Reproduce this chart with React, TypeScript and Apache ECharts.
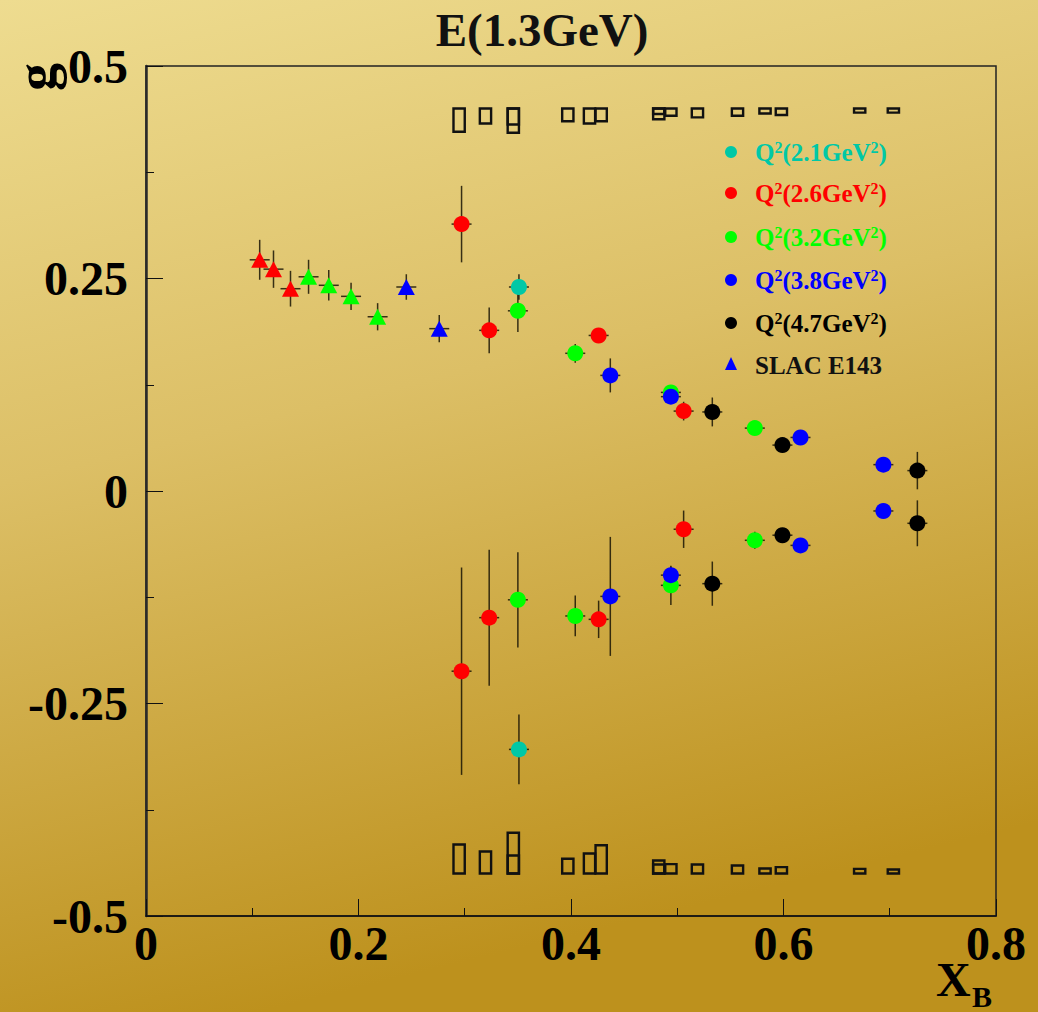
import React, { useEffect, useRef } from "react";
import * as echarts from "echarts";

const FONT = "'Liberation Serif', 'DejaVu Serif', serif";
const TITLE = "E(1.3GeV)";

// [x, y, error]
const q21 = [
  [0.351, 0.240, 0.015],
  [0.351, -0.304, 0.041],
];
const q26 = [
  [0.297, 0.314, 0.045],
  [0.323, 0.189, 0.027],
  [0.426, 0.183, 0.008],
  [0.506, 0.094, 0.011],
  [0.297, -0.212, 0.122],
  [0.323, -0.149, 0.080],
  [0.426, -0.151, 0.022],
  [0.506, -0.045, 0.022],
];
const q32 = [
  [0.350, 0.212, 0.025],
  [0.404, 0.162, 0.011],
  [0.494, 0.116, 0.008],
  [0.573, 0.074, 0.008],
  [0.350, -0.128, 0.056],
  [0.404, -0.147, 0.024],
  [0.494, -0.111, 0.023],
  [0.573, -0.058, 0.010],
];
const q38 = [
  [0.437, 0.136, 0.020],
  [0.494, 0.111, 0.008],
  [0.616, 0.063, 0.008],
  [0.694, 0.031, 0.008],
  [0.437, -0.124, 0.070],
  [0.494, -0.099, 0.010],
  [0.616, -0.064, 0.008],
  [0.694, -0.0235, 0.008],
];
const q47 = [
  [0.533, 0.093, 0.017],
  [0.599, 0.054, 0.008],
  [0.726, 0.024, 0.022],
  [0.533, -0.109, 0.026],
  [0.599, -0.052, 0.008],
  [0.726, -0.038, 0.027],
];
const slacRed = [
  [0.107, 0.272, 0.0235],
  [0.120, 0.261, 0.022],
  [0.136, 0.238, 0.021],
];
const slacGreen = [
  [0.153, 0.252, 0.020],
  [0.172, 0.242, 0.018],
  [0.193, 0.229, 0.016],
  [0.218, 0.205, 0.016],
];
const slacBlue = [
  [0.245, 0.240, 0.015],
  [0.276, 0.191, 0.016],
];

// systematic error boxes
const sysX = [0.2947, 0.3195, 0.3457, 0.3457, 0.397, 0.4174, 0.4284, 0.4826, 0.4826, 0.494, 0.519, 0.5567, 0.5826, 0.598, 0.6717, 0.7034];
const sysTop = [0.0273, 0.0177, 0.0188, 0.0286, 0.015, 0.0177, 0.015, 0.0127, 0.0065, 0.0085, 0.0104, 0.0085, 0.0058, 0.0077, 0.0049, 0.0049];
const sysBottom = [0.0341, 0.0259, 0.0212, 0.048, 0.0173, 0.0235, 0.0333, 0.0153, 0.0106, 0.011, 0.0106, 0.0094, 0.0059, 0.0075, 0.0055, 0.0047];
const SYS_TOP_BASE = 0.45;
const SYS_BOTTOM_BASE = -0.45;

const TEAL = "#00c8a6";
const RED = "#ff0000";
const GREEN = "#00ff00";
const BLUE = "#0000ff";
const BLACK = "#000000";

const groups = [
  { name: "Q2(2.1GeV2)", label: "2.1", color: TEAL, data: q21, symbol: "circle" },
  { name: "Q2(2.6GeV2)", label: "2.6", color: RED, data: q26, symbol: "circle" },
  { name: "Q2(3.2GeV2)", label: "3.2", color: GREEN, data: q32, symbol: "circle" },
  { name: "Q2(3.8GeV2)", label: "3.8", color: BLUE, data: q38, symbol: "circle" },
  { name: "Q2(4.7GeV2)", label: "4.7", color: BLACK, data: q47, symbol: "circle" },
  { name: "SLAC red", label: "", color: RED, data: slacRed, symbol: "triangle" },
  { name: "SLAC green", label: "", color: GREEN, data: slacGreen, symbol: "triangle" },
  { name: "SLAC blue", label: "", color: BLUE, data: slacBlue, symbol: "triangle" },
];

const ERR_COLOR = "rgba(25,20,5,0.85)";

export default function App() {
  const ref = useRef<HTMLDivElement>(null);
  useEffect(() => {
    if (!ref.current) return;
    const chart = echarts.init(ref.current, undefined, { renderer: "svg" });

    const errSeries: any[] = groups.map((g) => ({
      type: "custom",
      name: g.name + " err",
      data: g.data,
      encode: { x: 0, y: 1 },
      z: 2,
      renderItem: (params: any, api: any) => {
        const x = api.value(0);
        const y = api.value(1);
        const e = api.value(2);
        const c = api.coord([x, y]);
        const t = api.coord([x, y + e]);
        const b = api.coord([x, y - e]);
        return {
          type: "group",
          children: [
            { type: "line", shape: { x1: c[0], y1: t[1], x2: c[0], y2: b[1] }, style: { stroke: ERR_COLOR, lineWidth: 1.5 } },
            { type: "line", shape: { x1: c[0] - 10, y1: c[1], x2: c[0] + 10, y2: c[1] }, style: { stroke: ERR_COLOR, lineWidth: 1.5 } },
          ],
        };
      },
    }));

    const scatterSeries: any[] = groups.map((g) => ({
      type: "scatter",
      name: g.name,
      data: g.data.map((d) => [d[0], d[1]]),
      symbol: g.symbol,
      symbolSize: g.symbol === "circle" ? 16 : [17, 16],
      itemStyle: { color: g.color, opacity: 1 },
      z: 3,
    }));

    const sysData = sysX.map((x, i) => [x, sysTop[i], sysBottom[i]]);
    const BOX_HALF = 0.0053;
    const boxSeries = {
      type: "custom",
      name: "systematics",
      data: sysData,
      encode: { x: 0 },
      z: 2,
      renderItem: (params: any, api: any) => {
        const x = api.value(0);
        const ht = api.value(1);
        const hb = api.value(2);
        const a1 = api.coord([x - BOX_HALF, SYS_TOP_BASE]);
        const a2 = api.coord([x + BOX_HALF, SYS_TOP_BASE - ht]);
        const b1 = api.coord([x - BOX_HALF, SYS_BOTTOM_BASE + hb]);
        const b2 = api.coord([x + BOX_HALF, SYS_BOTTOM_BASE]);
        const st = { stroke: "#111", fill: "none", lineWidth: 2.4 };
        return {
          type: "group",
          children: [
            { type: "rect", shape: { x: a1[0], y: a1[1], width: a2[0] - a1[0], height: a2[1] - a1[1] }, style: st },
            { type: "rect", shape: { x: b1[0], y: b1[1], width: b2[0] - b1[0], height: b2[1] - b1[1] }, style: st },
          ],
        };
      },
    };

    const legendYs = [152, 193, 237, 280, 323];
    const legendEls: any[] = [];
    groups.slice(0, 5).forEach((g, i) => {
      legendEls.push({
        type: "circle",
        shape: { cx: 731, cy: legendYs[i], r: 6 },
        style: { fill: g.color },
      });
      legendEls.push({
        type: "text",
        x: 755,
        y: legendYs[i],
        style: {
          text: `{m|Q}{s|2}{m|(${g.label}GeV}{s|2}{m|)}`,
          verticalAlign: "middle",
          align: "left",
          rich: {
            m: { fontSize: 25, fontWeight: "bold", fontFamily: FONT, fill: g.color },
            s: { fontSize: 16, fontWeight: "bold", fontFamily: FONT, fill: g.color, verticalAlign: "top" },
          },
        },
      });
    });
    legendEls.push({
      type: "polygon",
      shape: { points: [[731, 357], [725, 370], [737, 370]] },
      style: { fill: BLUE },
    });
    legendEls.push({
      type: "text",
      x: 755,
      y: 365,
      style: {
        text: "SLAC E143",
        fontSize: 25,
        fontWeight: "bold",
        fontFamily: FONT,
        fill: "#111",
        verticalAlign: "middle",
        align: "left",
      },
    });

    const labelStyle = { fontSize: 48, fontWeight: "bold", fontFamily: FONT, color: "#000" };

    chart.setOption({
      animation: false,
      backgroundColor: new echarts.graphic.LinearGradient(0, 0, 0.25, 1, [
        { offset: 0, color: "#eedc90" },
        { offset: 0.45, color: "#dcbf66" },
        { offset: 1, color: "#bd911d" },
      ]),
      grid: { left: 146, top: 66, right: 42, bottom: 96, show: true, borderColor: "#222", borderWidth: 1.5, backgroundColor: "transparent" },
      xAxis: {
        type: "value",
        min: 0,
        max: 0.8,
        interval: 0.2,
        axisLine: { show: true, onZero: false, lineStyle: { color: "#111", width: 1.5 } },
        axisTick: { show: true, inside: true, length: 17, lineStyle: { color: "#111", width: 1 } },
        minorTick: { show: true, splitNumber: 2, length: 8, lineStyle: { color: "#111", width: 1 } },
        splitLine: { show: false },
        minorSplitLine: { show: false },
        axisLabel: { ...labelStyle, margin: 3 },
      },
      yAxis: {
        type: "value",
        min: -0.5,
        max: 0.5,
        interval: 0.25,
        axisLine: { show: true, onZero: false, lineStyle: { color: "#2a2a2a", width: 2.5 } },
        axisTick: { show: true, inside: true, length: 17, lineStyle: { color: "#111", width: 1 } },
        minorTick: { show: true, splitNumber: 2, length: 8, lineStyle: { color: "#111", width: 1 } },
        splitLine: { show: false },
        minorSplitLine: { show: false },
        axisLabel: { ...labelStyle, margin: 18 },
      },
      graphic: [
        {
          type: "text",
          x: 542,
          y: 30,
          style: { text: TITLE, fontSize: 47, fontWeight: "bold", fontFamily: FONT, fill: "#111", align: "center", verticalAlign: "middle" },
        },
        {
          type: "text",
          x: 36,
          y: 77,
          rotation: Math.PI / 2,
          style: { text: "g", fontSize: 56, fontWeight: "bold", fontFamily: FONT, fill: "#000", align: "center", verticalAlign: "middle" },
        },
        {
          type: "text",
          x: 936,
          y: 979,
          style: { text: "X", fontSize: 48, fontWeight: "bold", fontFamily: FONT, fill: "#000", align: "left", verticalAlign: "middle" },
        },
        {
          type: "text",
          x: 972,
          y: 996,
          style: { text: "B", fontSize: 30, fontWeight: "bold", fontFamily: FONT, fill: "#000", align: "left", verticalAlign: "middle" },
        },
        ...legendEls,
      ],
      series: [boxSeries, ...errSeries, ...scatterSeries],
    });
    return () => chart.dispose();
  }, []);
  return <div ref={ref} style={{ position: "fixed", left: 0, top: 0, width: 1038, height: 1012 }} />;
}
